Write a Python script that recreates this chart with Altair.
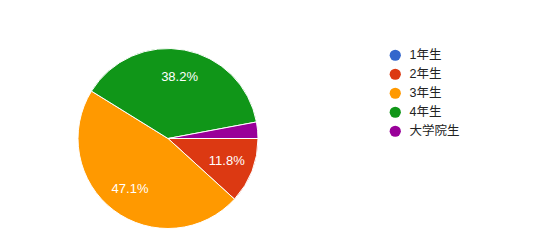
import altair as alt
import pandas as pd

categories = ["1年生", "2年生", "3年生", "4年生", "大学院生"]
counts = [0, 4, 16, 13, 1]
colors = ["#3366cc", "#dc3912", "#ff9900", "#109618", "#990099"]

df = pd.DataFrame({"cat": categories, "count": counts, "idx": list(range(len(categories)))})

FONT = "Liberation Sans, Arial, Noto Sans CJK JP"

theta_scale = alt.Scale(range=[1.5707963, 7.8539816])

base = alt.Chart(df).transform_joinaggregate(
    total="sum(count)"
).transform_calculate(
    pct="datum.count / datum.total",
    label="datum.count / datum.total >= 0.05 ? format(datum.count / datum.total, '.1%') : ''",
).encode(
    theta=alt.Theta("count:Q", stack=True, scale=theta_scale),
    order=alt.Order("idx:Q"),
)

pie = base.mark_arc(outerRadius=90, stroke="white", strokeWidth=1).encode(
    x=alt.value(168),
    y=alt.value(138.5),
    color=alt.Color(
        "cat:N",
        scale=alt.Scale(domain=categories, range=colors),
        sort=categories,
        legend=alt.Legend(
            title=None,
            orient="none",
            legendX=389,
            legendY=49,
            symbolType="circle",
            symbolSize=125,
            symbolStrokeWidth=0,
            labelFontSize=12.5,
            labelFont=FONT,
            labelColor="#222222",
            rowPadding=6,
            labelOffset=8,
        ),
    ),
)

text = base.mark_text(radius=63, fontSize=13, font=FONT, color="white").encode(
    x=alt.value(168),
    y=alt.value(138.5),
    text="label:N",
)

chart = (pie + text).properties(
    width=559, height=246, autosize=alt.AutoSizeParams(type="none"), padding=0
).configure_view(stroke=None)

chart.save("out.html", embed_options={"renderer": "svg", "actions": False})
